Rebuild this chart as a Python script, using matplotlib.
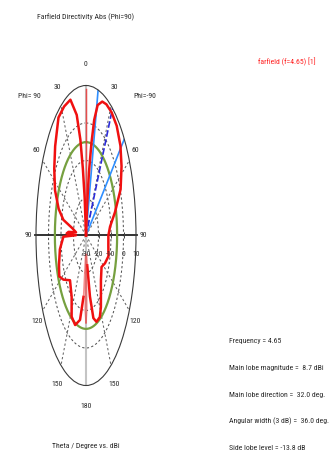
import numpy as np
import matplotlib
matplotlib.use("Agg")
import matplotlib.pyplot as plt
from matplotlib import font_manager as fm

# Directivity (dBi) of the Phi=-90 half (drawn clockwise, right side)
theta_right = [0, 1, 3, 6, 8, 10, 12, 15, 20, 25, 32, 40, 49, 57, 66, 75, 83, 90,
               99, 107, 116, 124, 135, 148, 153, 160, 165, 169, 173, 176, 178, 180]
dbi_right = [9.0, -30, -30, -22, -13, -5, 1.5, 6.0, 8.0, 8.6, 8.7, 8.2, 6.5, 3.9, 0.3, -6.0, -10.6, -12.1,
             -11.9, -11.2, -13.1, -15.0, -13.1, -7.5, -5.6, -5.5, -7.2, -13.4, -22, -25, -10, -6.7]

# Directivity (dBi) of the Phi=90 half (drawn counter-clockwise, left side)
theta_left = [0, 1, 3, 6, 8, 10, 13, 19, 27, 35, 46, 55, 64, 72, 77, 80, 84, 86, 88, 89.5, 91,
              100, 110, 117, 123, 133, 145, 152, 160, 168, 173, 176, 178, 180]
dbi_left = [9.0, -30, -30, -20, -12, -4, 3.0, 8.3, 8.6, 8.4, 4.3, 1.0, -2.4, -7.0, -11.4, -19, -22, -16, -14.5, -22, -11.9,
            -8.8, -7.0, -6.0, -8.4, -12.5, -10.0, -5.5, -4.6, -7.0, -13.5, -25, -10, -6.7]

# Main lobe markers
main_lobe_dir = 32.0
beam_edges = [14.0, 50.0]
side_lobe_ring = -5.1

r_min, r_max = -30, 10
ring_levels = [-20, -10, 0]
spoke_angles = [30, 60, 120, 150, -30, -60, -120, -150]
angle_labels = [0, 30, 60, 90, 120, 150, 180]
radial_labels = [-30, -20, -10, 0, 10]

stats_lines = ["Frequency = 4.65",
               "Main lobe magnitude =  8.7 dBi",
               "Main lobe direction =  32.0 deg.",
               "Angular width (3 dB) =  36.0 deg.",
               "Side lobe level = -13.8 dB"]

W, H = 330, 468
fig = plt.figure(figsize=(W / 100, H / 100), dpi=100)

# narrowest available sans family
avail = {f.name for f in fm.fontManager.ttflist}
base = 'DejaVu Sans'
for cand in ['Liberation Sans Narrow', 'Roboto Condensed', 'Open Sans Condensed',
             'Roboto', 'Liberation Sans']:
    if cand in avail:
        base = cand
        break
FONT = [base, 'DejaVu Sans']
TXT = '#2a2a2a'

renderer = fig.canvas.get_renderer()


def fit_size(text, target_px):
    t = fig.text(0, 0, text, fontsize=10, family=FONT)
    w = t.get_window_extent(renderer=renderer).width
    t.remove()
    return 10 * target_px / w


FS = fit_size("Farfield Directivity Abs (Phi=90)", 96)


def fpos(x, y):
    return x / W, 1 - y / H


cx, cy, rx, ry = 86, 235.5, 50, 150
ax = fig.add_axes([(cx - rx) / W, 1 - (cy + ry) / H, 2 * rx / W, 2 * ry / H], projection='polar')
ax.set_aspect('auto')
ax.set_theta_zero_location('N')
ax.set_theta_direction(-1)
ax.set_ylim(r_min, r_max)
ax.grid(False)
ax.set_xticks([])
ax.set_yticks([])
ax.patch.set_alpha(0)
ax.spines['polar'].set_color('#3a3a3a')
ax.spines['polar'].set_linewidth(0.8)

full = np.linspace(0, 2 * np.pi, 721)
for lev in ring_levels:
    ax.plot(full, np.full_like(full, lev), color='#555555', lw=0.75, ls=(0, (2.2, 2.2)))
for a in spoke_angles:
    ax.plot([np.deg2rad(a)] * 2, [r_min, r_max], color='#666666', lw=0.75, ls=(0, (2.2, 2.2)))
ax.plot([0, 0], [r_min, r_max], color='#c4c4c4', lw=1.5)
ax.plot([np.pi, np.pi], [r_min, r_max], color='#c4c4c4', lw=1.5)
for a in (90, -90):
    ax.plot([np.deg2rad(a)] * 2, [r_min, r_max + 0.8], color='#222222', lw=1.3, clip_on=False)
ax.plot([np.pi / 2] * 3, [-20, -10, 0], ls='none', marker='|', ms=4, mew=0.7, color='#444444')

# side lobe level ring
ax.plot(full, np.full_like(full, side_lobe_ring), color='#76a040', lw=1.6)

# main lobe direction and 3 dB beam width lines
ax.plot([np.deg2rad(main_lobe_dir)] * 2, [r_min, r_max], color='#2a2ad8', lw=1.2, ls=(0, (4, 1.5)))
for a in beam_edges:
    ax.plot([np.deg2rad(a)] * 2, [r_min, r_max], color='#2f8fff', lw=1.2)


# directivity pattern: the narrow on-axis slivers are drawn as thin strokes
def draw_half(theta_deg, dbi, sign):
    th = sign * np.deg2rad(theta_deg)
    r = np.clip(dbi, r_min, None)
    ax.plot(th[:2], r[:2], color='#f03030', lw=1.0, alpha=0.55)
    ax.plot(th[1:-3], r[1:-3], color='#f01010', lw=1.8, solid_joinstyle='round')
    ax.plot(th[-4:], r[-4:], color='#f03030', lw=1.0, alpha=0.55)


draw_half(np.array(theta_right), dbi_right, 1)
draw_half(np.array(theta_left), dbi_left, -1)

# angle labels
lab_r = r_min + 1.14 * (r_max - r_min)
for a in angle_labels:
    sides = [a] if a in (0, 180) else [a, -a]
    for s in sides:
        rr = lab_r + (0.5 if a == 90 else 0)
        ax.text(np.deg2rad(s), rr, str(a), ha='center', va='center', fontsize=FS,
                family=FONT, color=TXT, clip_on=False)

for v in radial_labels:
    ax.annotate(str(v), xy=(np.pi / 2, v), xytext=(0, -18.5), textcoords='offset pixels',
                ha='center', va='center', fontsize=FS, family=FONT, color=TXT)

fig.text(*fpos(86, 17), "Farfield Directivity Abs (Phi=90)", ha='center', va='center',
         fontsize=FS, family=FONT, color=TXT)
fig.text(*fpos(29, 96), "Phi= 90", ha='center', va='center', fontsize=FS, family=FONT, color=TXT)
fig.text(*fpos(145, 96), "Phi=-90", ha='center', va='center', fontsize=FS, family=FONT, color=TXT)
fig.text(*fpos(86, 446), "Theta / Degree vs. dBi", ha='center', va='center', fontsize=FS,
         family=FONT, color=TXT)
fig.text(*fpos(287, 62), "farfield (f=4.65) [1]", ha='center', va='center', fontsize=FS,
         family=FONT, color='#ff2020')

for i, line in enumerate(stats_lines):
    fig.text(*fpos(229, 341 + 26.8 * i), line, ha='left', va='center', fontsize=FS,
             family=FONT, color=TXT)

fig.savefig("out.png", dpi=100)
